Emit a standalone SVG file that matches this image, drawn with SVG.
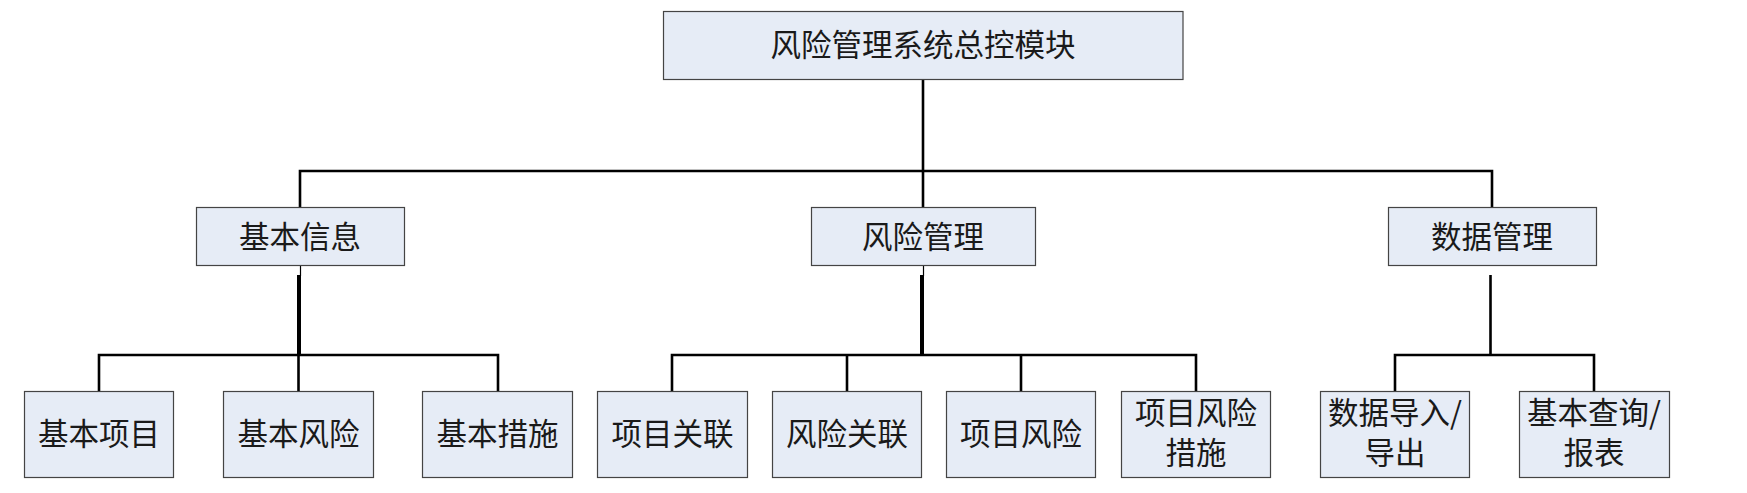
<svg xmlns="http://www.w3.org/2000/svg" width="1747" height="493" viewBox="0 0 1747 493">
<style>
.box{fill:#e6ecf6;stroke:#444;stroke-width:1.2}
.t{font-family:"Noto Sans CJK SC","Noto Sans",sans-serif;font-size:30.5px;fill:#1a1a1a;text-anchor:middle;dominant-baseline:central}
.ln{stroke:#000;stroke-width:2.6;fill:none}
.thk{stroke:#000;stroke-width:4;fill:none}
.thn{stroke:#000;stroke-width:1.2;fill:none}
</style>
<rect width="1747" height="493" fill="#fff"/>
<g id="connectors">
<line class="ln" x1="923" y1="79" x2="923" y2="171"/>
<polyline class="ln" points="300,207 300,171 1492,171 1492,207"/>
<line class="ln" x1="923" y1="171" x2="923" y2="207"/>
<line class="thn" x1="300.5" y1="266" x2="300.5" y2="276"/>
<line class="thk" x1="299" y1="275" x2="299" y2="355"/>
<polyline class="ln" points="99,392 99,355 498,355 498,392"/>
<line class="ln" x1="298.5" y1="355" x2="298.5" y2="392"/>
<line class="thn" x1="923.5" y1="266" x2="923.5" y2="276"/>
<line class="thk" x1="922" y1="275" x2="922" y2="355"/>
<polyline class="ln" points="672,392 672,355 1196,355 1196,392"/>
<line class="ln" x1="847" y1="355" x2="847" y2="392"/>
<line class="ln" x1="1021" y1="355" x2="1021" y2="392"/>
<line class="ln" x1="1490.5" y1="275" x2="1490.5" y2="355"/>
<polyline class="ln" points="1395,392 1395,355 1594,355 1594,392"/>
</g>
<g id="root"><rect class="box" x="663.5" y="11.5" width="519.5" height="68"/><text class="t" x="923" y="43">风险管理系统总控模块</text></g>
<g id="jbxx"><rect class="box" x="196.5" y="207.5" width="208" height="58"/><text class="t" x="300" y="235">基本信息</text></g>
<g id="fxgl"><rect class="box" x="811.5" y="207.5" width="224" height="58"/><text class="t" x="923" y="235">风险管理</text></g>
<g id="sjgl"><rect class="box" x="1388.5" y="207.5" width="208" height="58"/><text class="t" x="1492" y="235">数据管理</text></g>
<g id="jbxm"><rect class="box" x="24.5" y="391.5" width="149" height="86"/><text class="t" x="99" y="432">基本项目</text></g>
<g id="jbfx"><rect class="box" x="223.5" y="391.5" width="150" height="86"/><text class="t" x="298.5" y="432">基本风险</text></g>
<g id="jbcs"><rect class="box" x="422.5" y="391.5" width="150" height="86"/><text class="t" x="497.5" y="432">基本措施</text></g>
<g id="xmgl"><rect class="box" x="597.5" y="391.5" width="150" height="86"/><text class="t" x="672.5" y="432">项目关联</text></g>
<g id="fxgl2"><rect class="box" x="772.5" y="391.5" width="149" height="86"/><text class="t" x="847" y="432">风险关联</text></g>
<g id="xmfx"><rect class="box" x="946.5" y="391.5" width="149" height="86"/><text class="t" x="1021" y="432">项目风险</text></g>
<g id="xmfxcs"><rect class="box" x="1121.5" y="391.5" width="149" height="86"/><text class="t" x="1196" y="411">项目风险</text><text class="t" x="1196" y="451">措施</text></g>
<g id="sjdr"><rect class="box" x="1320.5" y="391.5" width="149" height="86"/><text class="t" x="1395" y="411">数据导入/</text><text class="t" x="1395" y="451">导出</text></g>
<g id="jbcx"><rect class="box" x="1519.5" y="391.5" width="150" height="86"/><text class="t" x="1594" y="411">基本查询/</text><text class="t" x="1594" y="451">报表</text></g>
</svg>
